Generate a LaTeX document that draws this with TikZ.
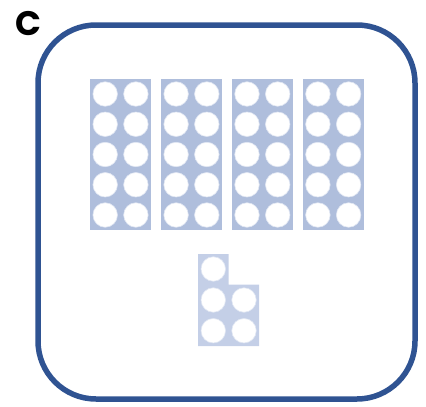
\documentclass[tikz,border=0pt]{standalone}
\usepackage{fontspec}
\setmainfont{Poppins}
\definecolor{frameblue}{RGB}{47,83,146}
\definecolor{tenblue}{RGB}{175,190,220}
\definecolor{lightblue}{RGB}{196,207,231}
\definecolor{holeedge}{RGB}{225,231,243}
\begin{document}
\begin{tikzpicture}[x=1pt,y=-1pt,
  hole/.style={circle,fill=white,draw=holeedge,line width=0.6pt,minimum size=24.5pt,inner sep=0pt},
  tenframe/.style={fill=tenblue},
  border/.style={draw=frameblue,line width=5.5pt,rounded corners=58pt}]
\useasboundingbox (0,0) rectangle (426,407);
\node[font=\bfseries\fontsize{34}{34}\selectfont,inner sep=0pt,anchor=base] (lbl) at (28,35) {C};
\draw[border] (38,25) rectangle (415,399);
\foreach \k in {0,1,2,3}{
  \pgfmathsetmacro{\xs}{90+70.9*\k}
  \fill[tenframe] (\xs,79) rectangle ++(61,150.5);
  \foreach \c in {0,1}{
    \foreach \r in {0,...,4}{
      \node[hole] (h\k\c\r) at ({\xs+15.2+30.7*\c},{94+30.25*\r}) {};
    }
  }
}
\fill[lightblue] (198,254) -- (228.5,254) -- (228.5,284.5) -- (259,284.5) -- (259,346) -- (198,346) -- cycle;
\node[hole] (b1) at (213.3,269) {};
\node[hole] (b2) at (213.3,300) {};
\node[hole] (b3) at (244,300) {};
\node[hole] (b4) at (213.3,330.7) {};
\node[hole] (b5) at (244,330.7) {};
\end{tikzpicture}
\end{document}
